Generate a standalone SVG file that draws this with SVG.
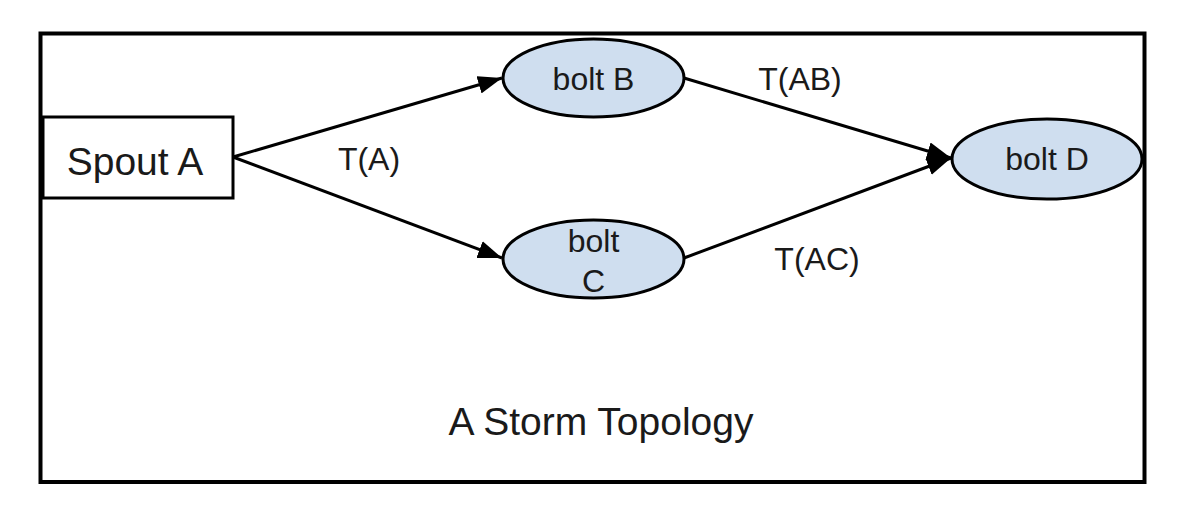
<svg xmlns="http://www.w3.org/2000/svg" width="1200" height="510" viewBox="0 0 1200 510">
<style>
.frame{fill:#ffffff;stroke:#000000;stroke-width:4}
.box{fill:#ffffff;stroke:#000000;stroke-width:3}
.bolt{fill:#cfdeef;stroke:#000000;stroke-width:3}
.edge{fill:none;stroke:#000000;stroke-width:3}
text{font-family:"Liberation Sans",Arial,sans-serif;fill:#1a1a1a}
.big{font-size:39px}
.lbl{font-size:32px;text-anchor:middle}
</style>
<defs>
<marker id="arr" markerUnits="userSpaceOnUse" markerWidth="26" markerHeight="18" refX="24" refY="9" orient="auto">
<path d="M0,0 L24,9 L0,18 Z" fill="#000000"/>
</marker>
</defs>
<rect x="0" y="0" width="1200" height="510" fill="#ffffff"/>
<rect class="frame" x="40.5" y="33.5" width="1104" height="448.5"/>
<g id="connectors">
<line class="edge" x1="233" y1="157" x2="502" y2="78" marker-end="url(#arr)"/>
<line class="edge" x1="233" y1="157" x2="502" y2="258" marker-end="url(#arr)"/>
<line class="edge" x1="684" y1="78" x2="951" y2="158" marker-end="url(#arr)"/>
<line class="edge" x1="684" y1="258" x2="951" y2="158" marker-end="url(#arr)"/>
<text class="lbl" x="369" y="170">T(A)</text>
<text class="lbl" x="800" y="90">T(AB)</text>
<text class="lbl" x="817" y="270">T(AC)</text>
</g>
<g id="spoutA">
<rect class="box" x="43" y="117" width="190" height="81"/>
<text class="big" x="135" y="175" text-anchor="middle">Spout A</text>
</g>
<g id="boltB">
<ellipse class="bolt" cx="593.5" cy="78" rx="90.5" ry="39"/>
<text class="lbl" x="593.5" y="90">bolt B</text>
</g>
<g id="boltC">
<ellipse class="bolt" cx="593.5" cy="259" rx="90.5" ry="39"/>
<text class="lbl" x="593.5" y="252">bolt</text>
<text class="lbl" x="593.5" y="292">C</text>
</g>
<g id="boltD">
<ellipse class="bolt" cx="1047" cy="159" rx="95" ry="40"/>
<text class="lbl" x="1047" y="170">bolt D</text>
</g>
<text class="big" x="601" y="435" text-anchor="middle">A Storm Topology</text>
</svg>
